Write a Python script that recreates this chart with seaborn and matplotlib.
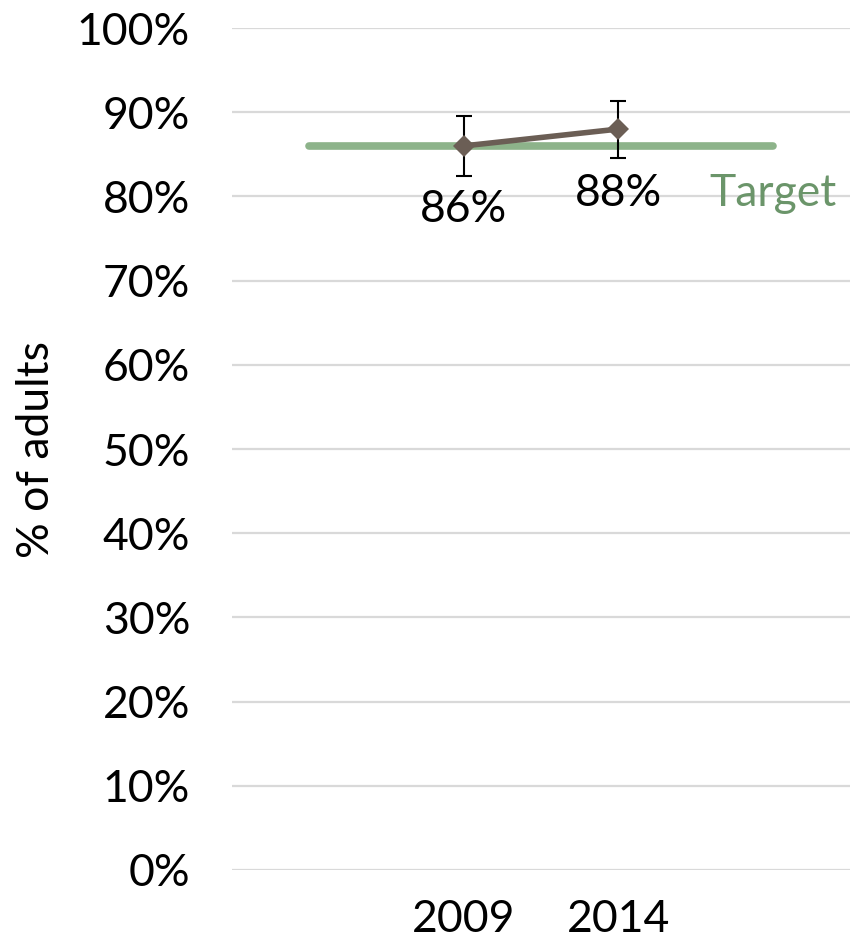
import matplotlib
matplotlib.use("Agg")
import matplotlib.pyplot as plt
import seaborn as sns
import pandas as pd

categories = ["", "2009", "2014", ""]
years = ["2009", "2014"]
values = [86, 88]
err_low = [82.4, 84.6]
err_high = [89.5, 91.3]
target_value = 86
target_label = "Target"
y_ticks = [0, 10, 20, 30, 40, 50, 60, 70, 80, 90, 100]

sns.set_theme(style="white")
plt.rcParams['font.family'] = ['Lato', 'DejaVu Sans']
plt.rcParams['text.color'] = 'black'
plt.rcParams['xtick.color'] = 'black'
plt.rcParams['ytick.color'] = 'black'
plt.rcParams['axes.labelcolor'] = 'black'

fig = plt.figure(figsize=(8.65, 9.44), dpi=100)
ax = fig.add_axes([0.268, 0.0784, 0.715, 0.8919])

xpos = [categories.index(y) for y in years]
df = pd.DataFrame({"x": xpos, "y": values})
tdf = pd.DataFrame({"x": [0, len(categories) - 1], "y": [target_value, target_value]})

for t in y_ticks:
    ax.axhline(t, color="#d9d9d9", lw=1.6, zorder=0)

sns.lineplot(data=tdf, x="x", y="y", ax=ax, color="#8db38a", lw=5.5,
             solid_capstyle="round", zorder=2)
yerr = [[v - l for v, l in zip(values, err_low)], [h - v for v, h in zip(values, err_high)]]
ax.errorbar(xpos, values, yerr=yerr, fmt="none", ecolor="black", elinewidth=1.5,
            capsize=6, capthick=1.5, zorder=3)
sns.lineplot(data=df, x="x", y="y", ax=ax, color="#6b5e55", lw=4, marker="D",
             markersize=11, markeredgewidth=0, zorder=4)

FS = 32
# data labels
ax.text(xpos[0], 78.4, f"{values[0]}%", ha="center", va="center", fontsize=FS, color="black")
ax.text(xpos[1], 80.4, f"{values[1]}%", ha="center", va="center", fontsize=FS, color="black")
ax.text(len(categories) - 1, 80.4, target_label, ha="center", va="center",
        fontsize=FS, color="#6b956a")

ax.set_xlim(-0.5, len(categories) - 0.5)
ax.set_ylim(0, 100)
ax.set_xticks(range(len(categories)))
ax.set_xticklabels(categories)
ax.set_yticks(y_ticks)
ax.set_yticklabels([f"{t}%" for t in y_ticks])
ax.tick_params(axis="y", length=0, pad=30, labelsize=FS, labelcolor="black")
ax.tick_params(axis="x", length=0, pad=21, labelsize=FS, labelcolor="black")
ax.set_xlabel("")
ax.set_ylabel("% of adults", fontsize=FS, labelpad=14, color="black")
for s in ax.spines.values():
    s.set_visible(False)

fig.savefig("out.png", dpi=100)
